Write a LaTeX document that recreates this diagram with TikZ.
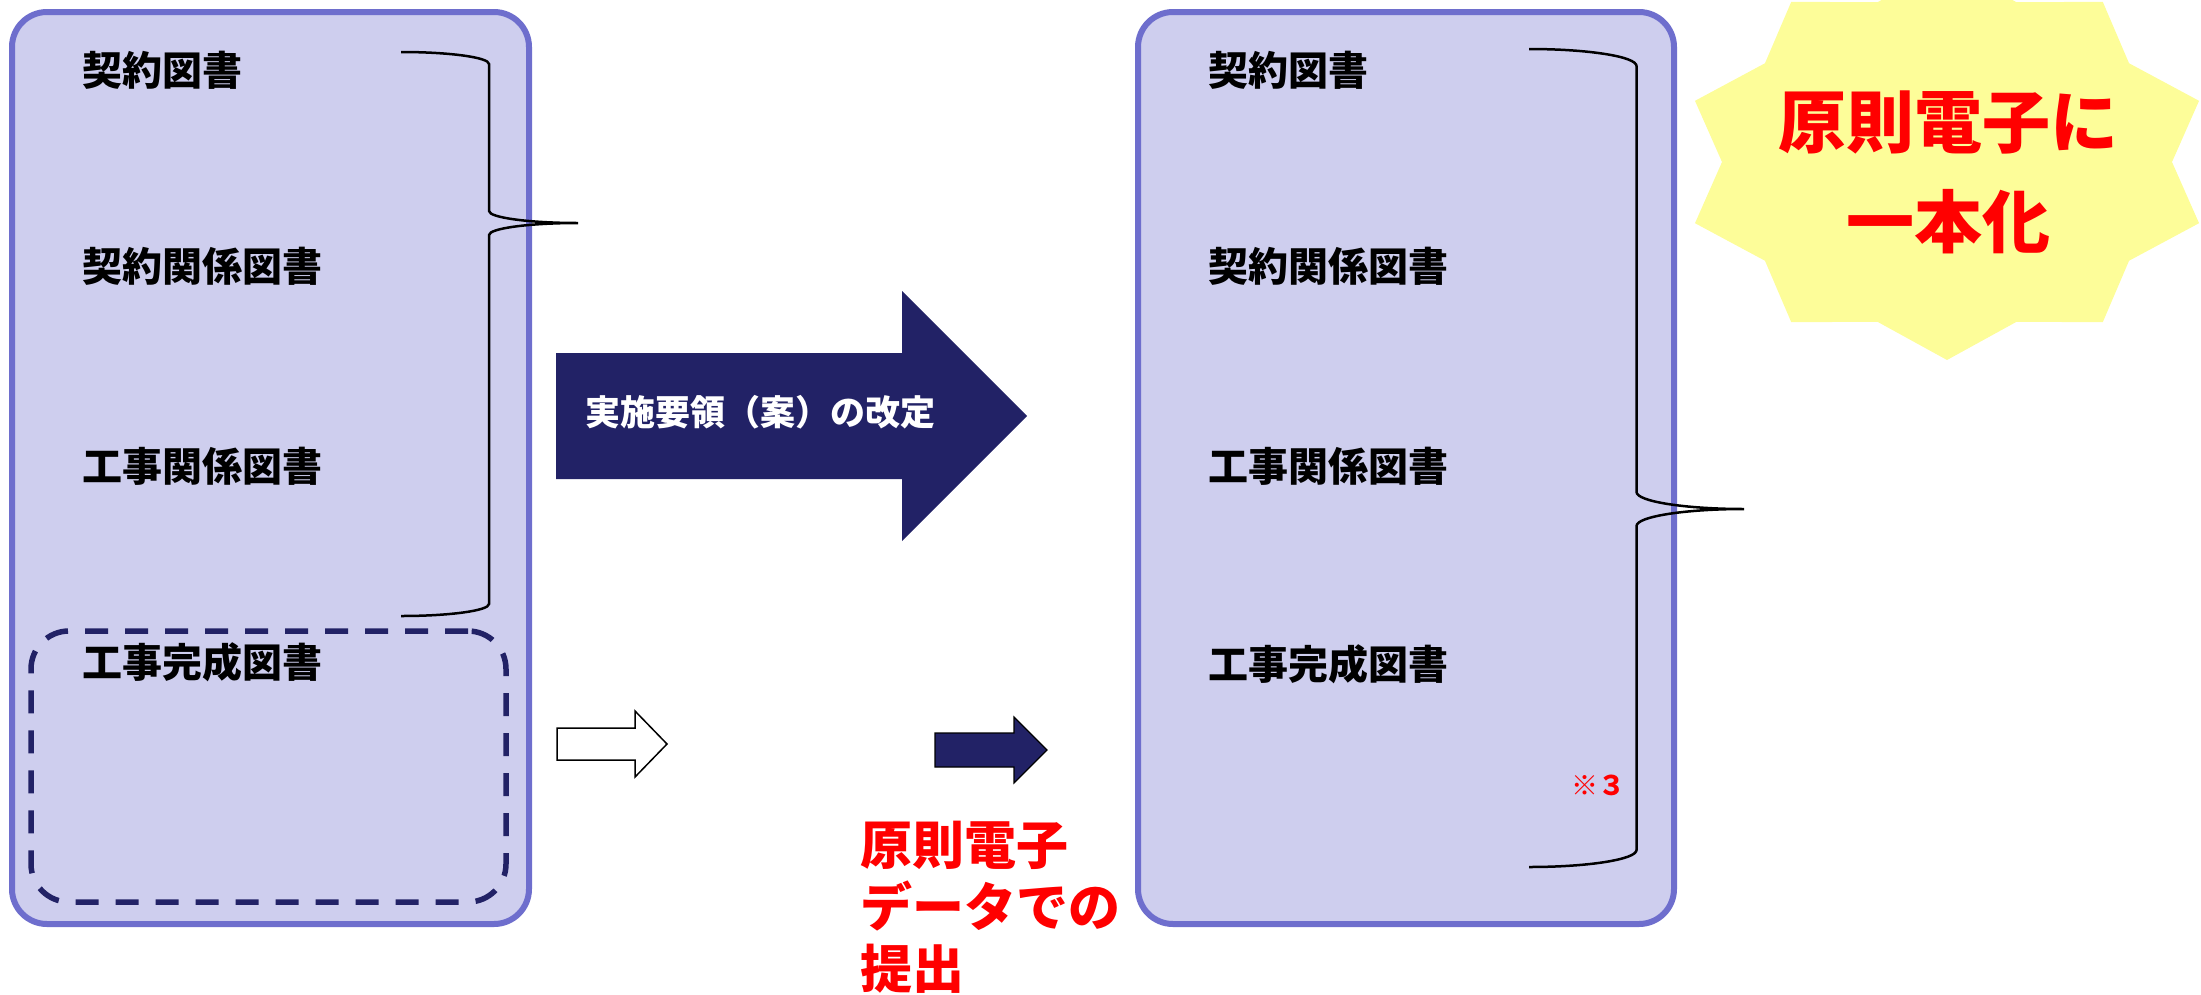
\documentclass[tikz,border=0pt]{standalone}
\usepackage{fontspec}
\setmainfont{Noto Sans CJK JP}
\definecolor{boxfill}{RGB}{206,206,238}
\definecolor{boxborder}{RGB}{110,110,205}
\definecolor{navy}{RGB}{34,34,102}
\definecolor{redtxt}{RGB}{255,0,0}
\definecolor{starfill}{RGB}{253,253,153}
\begin{document}
\begin{tikzpicture}[x=1pt,y=-1pt,
  panel/.style={draw=boxborder, line width=6pt, fill=boxfill, rounded corners=35pt, inner sep=0pt},
  dashbox/.style={draw=navy, line width=5.5pt, dash pattern=on 23pt off 17pt, rounded corners=38pt, inner sep=0pt},
  lbl/.style={font=\bfseries\fontsize{40}{48}\selectfont, anchor=west, inner sep=0pt, text=black},
  brace/.style={draw=black, line width=2.5pt},
  bigarrow/.style={fill=navy},
  redlbl/.style={font=\bfseries\fontsize{52}{62}\selectfont, text=redtxt, inner sep=0pt, align=left}
]
\useasboundingbox (0,0) rectangle (2201,994);
\clip (0,0) rectangle (2201,994);

% panels
\node[panel, minimum width=517pt, minimum height=912pt] (leftbox) at (270.5,468) {};
\node[panel, minimum width=536pt, minimum height=912pt] (rightbox) at (1406,468) {};
\node[dashbox, minimum width=475pt, minimum height=271pt] (dbox) at (268.5,766.5) {};

% left texts
\node[lbl] (l1) at (82,70) {契約図書};
\node[lbl] (l2) at (82,266) {契約関係図書};
\node[lbl] (l3) at (82,466) {工事関係図書};
\node[lbl] (l4) at (82,662) {工事完成図書};

% right texts
\node[lbl] (r1) at (1208,70) {契約図書};
\node[lbl] (r2) at (1208,266) {契約関係図書};
\node[lbl] (r3) at (1208,466) {工事関係図書};
\node[lbl] (r4) at (1208,664) {工事完成図書};

\node[font=\bfseries\fontsize{27}{30}\selectfont, text=redtxt, inner sep=0pt] (note) at (1598,785) {※３};

% left brace
\draw[brace] (401,52) .. controls (449.6,52) and (489,57.4) .. (489,64)
  -- (489,211) .. controls (489,217.6) and (528.9,223) .. (578,223)
  .. controls (528.9,223) and (489,228.4) .. (489,235)
  -- (489,604) .. controls (489,610.6) and (449.6,616) .. (401,616);

% right brace
\draw[brace] (1529,49) .. controls (1588.3,49) and (1636.5,56.6) .. (1636.5,66)
  -- (1636.5,492) .. controls (1636.5,501.4) and (1684.7,509) .. (1744,509)
  .. controls (1684.7,509) and (1636.5,516.6) .. (1636.5,526)
  -- (1636.5,850) .. controls (1636.5,859.4) and (1588.3,867) .. (1529,867);

% big arrow
\fill[bigarrow] (556,353) -- (902,353) -- (902,291) -- (1027,416) -- (902,541) -- (902,479) -- (556,479) -- cycle;
\node[font=\bfseries\fontsize{35}{40}\selectfont, text=white, inner sep=0pt] (atext) at (760,412) {実施要領（案）の改定};

% white arrow
\draw[fill=white, draw=black, line width=1.5pt, line join=miter] (557,728) -- (635,728) -- (635,711) -- (667,744) -- (635,777) -- (635,760) -- (557,760) -- cycle;

% small dark arrow
\draw[fill=navy, draw=black, line width=1.2pt, line join=miter] (935,733) -- (1014,733) -- (1014,717) -- (1047,750) -- (1014,783) -- (1014,767) -- (935,767) -- cycle;

% red text
\node[redlbl, anchor=north west] (rtext) at (860,821) {原則電子\\データでの\\提出};

% star
\fill[starfill] (2172,162) \foreach \a in {18,54,...,342} { -- ({1947+265*cos(\a)},{162-198*sin(\a)}) -- ({1947+225*cos(\a+18)},{162-168*sin(\a+18)}) } -- cycle;
\node[font=\bfseries\fontsize{68}{100}\selectfont, text=redtxt, inner sep=0pt, align=center] (startext) at (1948,172) {原則電子に\\一本化};
\end{tikzpicture}
\end{document}
